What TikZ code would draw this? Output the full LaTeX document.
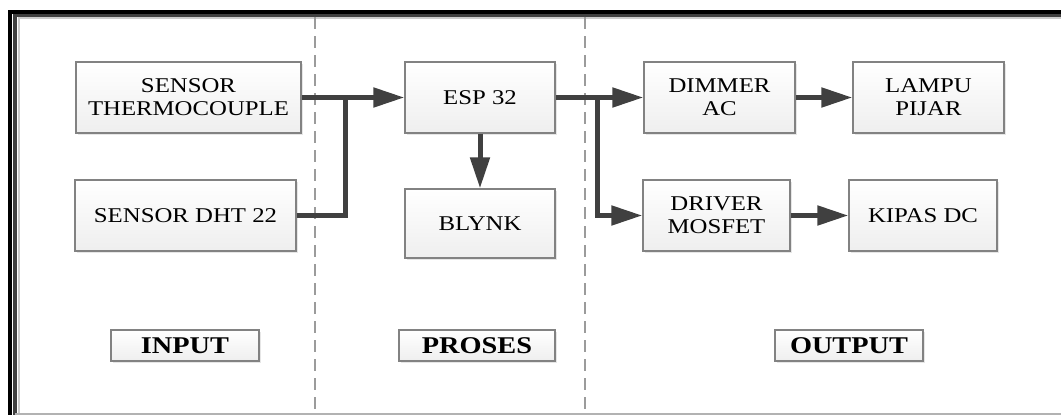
\documentclass[tikz,border=0pt]{standalone}
\usepackage{fontspec}
\setmainfont[FakeStretch=1.18]{Liberation Serif}
\usepackage{tikz}
\usetikzlibrary{
    arrows.meta,
    positioning,
    shadows
}
\definecolor{PanahGray}{RGB}{64,64,64}
\definecolor{KotakGray}{RGB}{130,130,130}
\definecolor{GarisGray}{RGB}{155,155,155}
\tikzset{
    blok/.style={
        draw=KotakGray,
        line width=1.3pt,
        top color=white,
        bottom color=gray!13,
        align=center,
        inner sep=0pt,
        font=\fontsize{21}{23}\selectfont,
        drop shadow={opacity=0.2,shadow xshift=1.5pt,shadow yshift=-1.5pt}
    },
    label/.style={
        blok,
        minimum width=148pt,
        minimum height=31pt,
        font=\fontsize{24}{26}\selectfont\bfseries
    },
    panah/.style={
        PanahGray,
        line width=5pt,
        -{Triangle[length=31pt,width=19pt]}
    },
    garis/.style={
        PanahGray,
        line width=5pt
    },
    batas/.style={
        GarisGray,
        line width=2pt,
        dash pattern=on 12pt off 7pt
    }
}

\begin{document}
\begin{tikzpicture}[x=1pt,y=-1pt]
%
    \clip (0,0) rectangle (1061,415);
%
    % bingkai
    \draw[black, line width=4pt] (1070,12) -- (10,12) -- (10,420);
    \draw[black!75, line width=3.5pt] (1070,15.5) -- (15,15.5) -- (15,420);
    \draw[black!20, line width=2pt] (1070,18) -- (18.5,18) -- (18.5,420);
    \draw[black!30, line width=2pt] (15,414) -- (1070,414);
%
    \draw[batas] (315,17) -- (315,415);
    \draw[batas] (585,17) -- (585,415);
%
    % input
    \node[blok, minimum width=225pt, minimum height=71pt]
        (thermo) at (188.5,97.5) {SENSOR\\THERMOCOUPLE};
    \node[blok, minimum width=221pt, minimum height=71pt]
        (dht) at (185.5,215.5) {SENSOR DHT 22};
%
    % proses
    \node[blok, minimum width=150pt, minimum height=71pt]
        (esp) at (480,97.5) {ESP 32};
    \node[blok, minimum width=150pt, minimum height=69pt]
        (blynk) at (480,223.5) {BLYNK};
%
    % output
    \node[blok, minimum width=151pt, minimum height=71pt]
        (dimmer) at (719.5,97.5) {DIMMER\\AC};
    \node[blok, minimum width=151pt, minimum height=71pt]
        (lampu) at (928.5,97.5) {LAMPU\\PIJAR};
    \node[blok, minimum width=147pt, minimum height=71pt]
        (driver) at (716.5,215.5) {DRIVER\\MOSFET};
    \node[blok, minimum width=148pt, minimum height=71pt]
        (kipas) at (923,215.5) {KIPAS DC};
%
    \node[label] (lblin) at (185,345.5) {INPUT};
    \node[label, minimum width=156pt] (lblpros) at (477,345.5) {PROSES};
    \node[label] (lblout) at (849,345.5) {OUTPUT};
%
    % panah
    \coordinate (gabung) at (345,97.5);
    \coordinate (cabang) at (597,97.5);
%
    \draw[panah] (thermo.east) -- (esp.west);
    \draw[garis] (dht.east) -| (gabung);
    \draw[panah] (esp.east) -- (dimmer.west);
    \draw[panah] (cabang) |- (driver.west);
    \draw[panah] (esp.south) -- (blynk.north);
    \draw[panah] (dimmer.east) -- (lampu.west);
    \draw[panah] (driver.east) -- (kipas.west);
%
\end{tikzpicture}
\end{document}
